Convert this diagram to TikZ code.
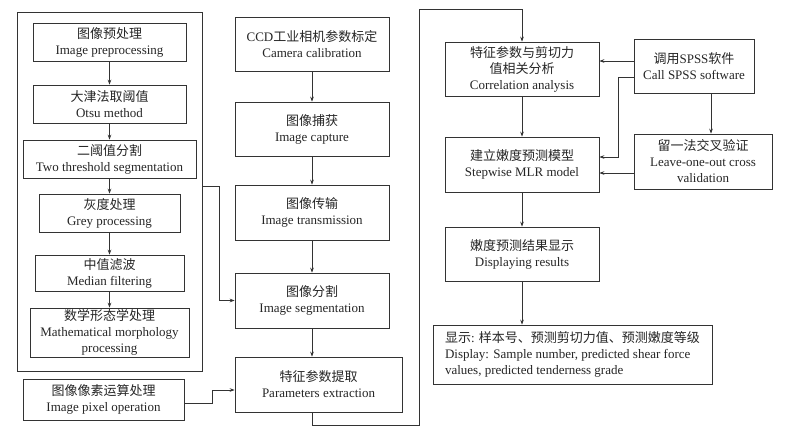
\documentclass[tikz,border=0pt]{standalone}
\usepackage{fontspec}
\setmainfont{Liberation Serif}
\newfontfamily\cjk{Noto Sans CJK SC}
\usetikzlibrary{arrows.meta}
\begin{document}
\begin{tikzpicture}[x=1pt,y=-1pt,
 box/.style={draw=black!80,line width=0.7pt,align=center,inner sep=1pt,font=\fontsize{13}{16}\selectfont,text=black!85},
 arr/.style={draw=black!80,line width=0.7pt,-{Stealth[length=5pt,width=3.6pt]}},
 ln/.style={draw=black!80,line width=0.7pt}]
\useasboundingbox[fill=white] (0,0) rectangle (791,434);
% outer frame
\node[draw=black!80,line width=0.7pt,minimum width=185,minimum height=359,inner sep=0pt] (outer) at (109.5,191.5) {};
% left column
\node[box,minimum width=153,minimum height=38] (pre) at (109.5,42) {{\cjk 图像预处理}\\Image preprocessing};
\node[box,minimum width=153,minimum height=38] (otsu) at (109.5,104) {{\cjk 大津法取阈值}\\Otsu method};
\node[box,minimum width=173,minimum height=38] (two) at (109.5,159) {{\cjk 二阈值分割}\\Two threshold segmentation};
\node[box,minimum width=141,minimum height=38] (grey) at (109.5,213) {{\cjk 灰度处理}\\Grey processing};
\node[box,minimum width=149,minimum height=36] (median) at (109.5,273) {{\cjk 中值滤波}\\Median filtering};
\node[box,minimum width=159,minimum height=49] (morph) at (109.5,332.5) {{\cjk 数学形态学处理}\\Mathematical morphology\\processing};
\node[box,minimum width=161,minimum height=41] (pixel) at (103.5,399.5) {{\cjk 图像像素运算处理}\\Image pixel operation};
% middle column
\node[box,minimum width=154,minimum height=54] (ccd) at (312,44) {CCD{\cjk 工业相机参数标定}\\Camera calibration};
\node[box,minimum width=154,minimum height=54] (cap) at (312,129) {{\cjk 图像捕获}\\Image capture};
\node[box,minimum width=154,minimum height=55] (trans) at (312,212.5) {{\cjk 图像传输}\\Image transmission};
\node[box,minimum width=154,minimum height=55] (seg) at (312,300.5) {{\cjk 图像分割}\\Image segmentation};
\node[box,minimum width=167,minimum height=55] (param) at (318.5,384.5) {{\cjk 特征参数提取}\\Parameters extraction};
% right column
\node[box,minimum width=154,minimum height=54] (corr) at (522,69) {{\cjk 特征参数与剪切力}\\{\cjk 值相关分析}\\Correlation analysis};
\node[box,minimum width=154,minimum height=55] (mlr) at (522,164.5) {{\cjk 建立嫩度预测模型}\\Stepwise MLR model};
\node[box,minimum width=154,minimum height=54] (disp) at (522,254) {{\cjk 嫩度预测结果显示}\\Displaying results};
\node[box,minimum width=279,minimum height=59,align=left] (final) at (572.5,354.5) {{\cjk 显示}: {\cjk 样本号、预测剪切力值、预测嫩度等级}\\Display: Sample number, predicted shear force\\values, predicted tenderness grade};
\node[box,minimum width=120,minimum height=54] (spss) at (694,66) {{\cjk 调用}SPSS{\cjk 软件}\\Call SPSS software};
\node[box,minimum width=138,minimum height=55] (loo) at (703,161.5) {{\cjk 留一法交叉验证}\\Leave-one-out cross\\validation};
% left column arrows
\draw[arr] (pre) -- (otsu);
\draw[arr] (otsu) -- (two);
\draw[arr] (two) -- (grey);
\draw[arr] (grey) -- (median);
\draw[arr] (median) -- (morph);
% middle arrows
\draw[arr] (ccd) -- (cap);
\draw[arr] (cap) -- (trans);
\draw[arr] (trans) -- (seg);
\draw[arr] (seg.south) -- (seg.south |- param.north);
% outer -> segmentation
\coordinate (k1) at (219,186);
\draw[arr] (outer.east |- k1) -- (k1) |- (seg.west);
% pixel -> param
\coordinate (p1) at (212,403);
\coordinate (p2) at (212,390);
\draw[arr] (pixel.east |- p1) -- (p1) -- (p2) -- (param.west |- p2);
% param -> corr
\coordinate (q1) at (312,425);
\coordinate (q2) at (419,9);
\draw[arr] (param.south -| q1) -- (q1) -| (q2) -| (corr.north);
% right column
\draw[arr] (corr) -- (mlr);
\draw[arr] (mlr) -- (disp);
\draw[arr] (disp.south) -- (disp.south |- final.north);
\coordinate (s1) at (634,61);
\draw[arr] (s1) -- (corr.east |- s1);
\coordinate (s2) at (618,77);
\coordinate (s3) at (618,157);
\draw[arr] (spss.west |- s2) -- (s2) -- (s3) -- (mlr.east |- s3);
\coordinate (l1) at (634,173);
\draw[arr] (l1) -- (mlr.east |- l1);
\coordinate (s4) at (711,93);
\draw[arr] (s4) -- (s4 |- loo.north);
\end{tikzpicture}
\end{document}
